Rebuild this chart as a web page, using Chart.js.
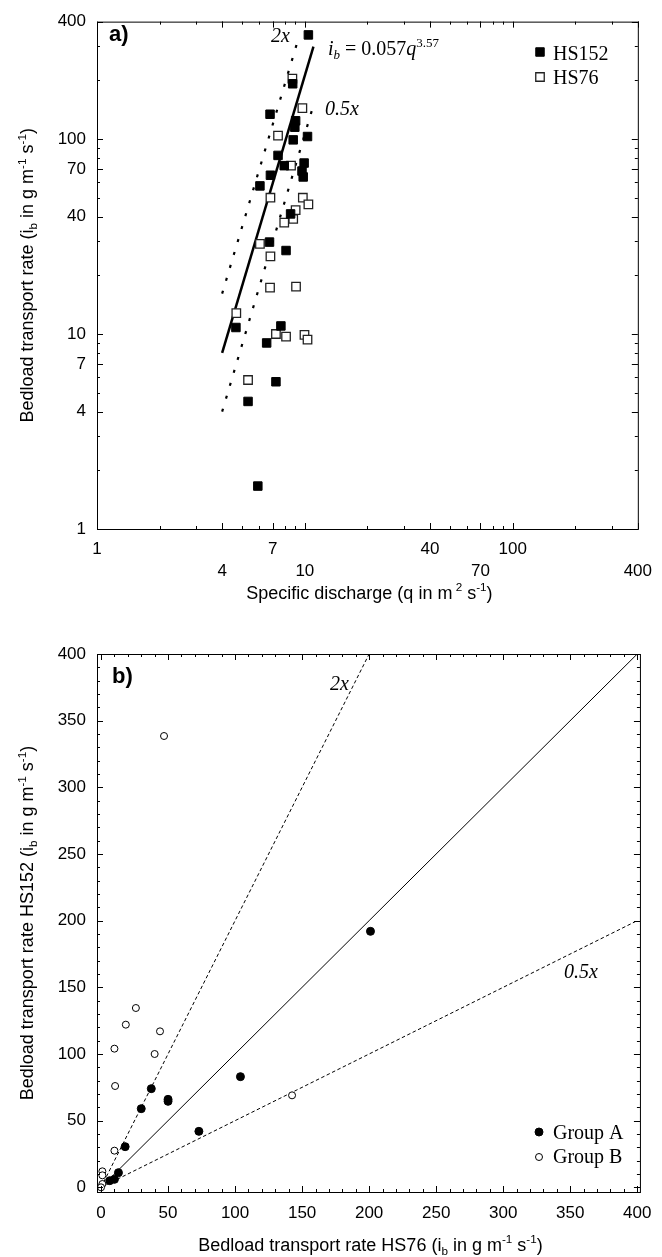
<!DOCTYPE html>
<html>
<head>
<meta charset="utf-8">
<script src="https://cdn.jsdelivr.net/npm/chart.js@4.4.1/dist/chart.umd.min.js"></script>
<style>
  html, body { margin: 0; padding: 0; background: #fff; }
  #boxA { position: absolute; left: 0; top: 0; }
  #boxB { position: absolute; left: 0; top: 630px; }
</style>
</head>
<body>
<div id="boxA"><canvas id="chartA" width="662" height="630"></canvas></div>
<div id="boxB"><canvas id="chartB" width="662" height="627"></canvas></div>
<script>
// ---- panel a: specific discharge vs bedload transport rate (log-log)
const hs152Q  = [10.4, 8.74, 6.80, 9.03, 8.95, 8.79, 10.3, 7.43, 7.96, 9.92, 9.69, 9.82, 6.83, 6.08, 8.54, 6.76, 8.12, 4.66, 7.67, 6.55, 7.26, 5.33, 5.94];
const hs152Ib = [342, 192, 134, 124, 115, 99, 103, 82.4, 73, 75.3, 68.5, 63.9, 65.2, 57.5, 41.3, 29.6, 26.8, 10.8, 11.0, 9.0, 5.69, 4.51, 1.66];
const hs76Q   = [8.71, 9.73, 7.43, 8.58, 6.83, 9.78, 10.4, 9.03, 8.79, 7.96, 6.08, 6.83, 6.80, 9.07, 4.68, 7.26, 8.12, 9.96, 10.3, 5.33];
const hs76Ib  = [204, 144, 104, 73, 50, 50, 46.2, 43.2, 38.9, 37.3, 29.0, 25.0, 17.3, 17.5, 12.8, 10.0, 9.7, 9.9, 9.36, 5.81];
// fitted power law and the 2x / 0.5x envelopes (end points)
const fitQ   = [4, 11];
const fitIb  = [8.0, 298];
const twoXQ  = [4, 9.3];
const twoXIb = [16.1, 326];
const halfQ  = [4, 11];
const halfIb = [4.0, 149];
const logTicks = [1, 4, 7, 10, 40, 70, 100, 400];

// ---- panel b: HS76 vs HS152
const groupAx = [201, 104, 73, 50, 50, 37.5, 30, 18, 13, 10, 6.5];
const groupAy = [192, 83, 42, 66, 64.5, 74, 59, 30.5, 11, 6, 5];
const groupBx = [47, 26, 18.5, 44, 10, 40, 10.5, 142.5, 10, 1, 1, 1, 0];
const groupBy = [338.5, 134.5, 122, 117, 104, 100, 76, 69, 27.5, 12, 9, 2.5, 0];
const oneX = [0, 400], oneY = [0, 400];
const dblX = [0, 200], dblY = [0, 400];
const hlfX = [0, 400], hlfY = [0, 200];
const linTicks = [0, 50, 100, 150, 200, 250, 300, 350, 400];

const sans = "'Liberation Sans', Arial, Helvetica, sans-serif";
const serif = "'Liberation Serif', 'Times New Roman', serif";
Chart.defaults.font.family = sans;
Chart.defaults.color = '#000';

const zip = (xs, ys) => xs.map((x, i) => ({ x: x, y: ys[i] }));

// text with sub/superscripts, drawn on the canvas
function drawRich(ctx, parts, x, y, size, family, align) {
  const small = size * 0.65;
  const fontOf = p => (p.it ? 'italic ' : '') + (p.bold ? 'bold ' : '') + ((p.sub || p.sup) ? small : size) + 'px ' + family;
  let w = 0;
  parts.forEach(p => { ctx.font = fontOf(p); w += ctx.measureText(p.t).width; });
  let cx = align === 'center' ? x - w / 2 : (align === 'right' ? x - w : x);
  ctx.textAlign = 'left';
  ctx.textBaseline = 'alphabetic';
  parts.forEach(p => {
    ctx.font = fontOf(p);
    const dy = p.sub ? size * 0.22 : (p.sup ? -size * 0.42 : 0);
    ctx.fillText(p.t, cx, y + dy);
    cx += ctx.measureText(p.t).width;
  });
}

function drawVertical(ctx, parts, cx, cy, size) {
  ctx.save();
  ctx.translate(cx, cy);
  ctx.rotate(-Math.PI / 2);
  drawRich(ctx, parts, 0, size * 0.36, size, sans, 'center');
  ctx.restore();
}

// box round the plot with inward ticks on all four sides
function frameTicks(chart, xMajor, xMinor, yMajor, yMinor) {
  const { ctx, chartArea: a, scales } = chart;
  ctx.save();
  ctx.strokeStyle = '#000';
  ctx.lineWidth = 1;
  ctx.strokeRect(a.left + 0.5, a.top + 0.5, a.right - a.left, a.bottom - a.top);
  ctx.beginPath();
  const tx = (v, len) => {
    const p = Math.round(scales.x.getPixelForValue(v)) + 0.5;
    ctx.moveTo(p, a.bottom); ctx.lineTo(p, a.bottom - len);
    ctx.moveTo(p, a.top); ctx.lineTo(p, a.top + len);
  };
  const ty = (v, len) => {
    const p = Math.round(scales.y.getPixelForValue(v)) + 0.5;
    ctx.moveTo(a.left, p); ctx.lineTo(a.left + len, p);
    ctx.moveTo(a.right, p); ctx.lineTo(a.right - len, p);
  };
  xMinor.forEach(v => tx(v, 3));
  xMajor.forEach(v => tx(v, 6));
  yMinor.forEach(v => ty(v, 3));
  yMajor.forEach(v => ty(v, 6));
  ctx.stroke();
  ctx.restore();
}

function legendRow(ctx, ds, x, y, label, tx, ty) {
  ctx.save();
  ctx.fillStyle = ds.backgroundColor;
  ctx.strokeStyle = ds.borderColor;
  ctx.lineWidth = ds.borderWidth;
  Chart.helpers.drawPoint(ctx, { pointStyle: ds.pointStyle, radius: ds.pointRadius, rotation: 0, borderWidth: ds.borderWidth }, x, y);
  ctx.restore();
  ctx.fillStyle = '#000';
  drawRich(ctx, [{ t: label }], tx, ty, 20, serif, 'left');
}

const logMinor = [];
[1, 10, 100].forEach(d => { for (let k = 2; k <= 9; k++) if (d * k <= 400) logMinor.push(d * k); });
const linMinor = [];
for (let v = 0; v <= 400; v += 10) linMinor.push(v);

const yTitleA = [{ t: 'Bedload transport rate (i' }, { t: 'b', sub: true }, { t: ' in g m' }, { t: '-1', sup: true }, { t: ' s' }, { t: '-1', sup: true }, { t: ')' }];
const xTitleA = [{ t: 'Specific discharge (q in m' }, { t: ' 2', sup: true }, { t: ' s' }, { t: '-1', sup: true }, { t: ')' }];
const yTitleB = [{ t: 'Bedload transport rate HS152 (i' }, { t: 'b', sub: true }, { t: ' in g m' }, { t: '-1', sup: true }, { t: ' s' }, { t: '-1', sup: true }, { t: ')' }];
const xTitleB = [{ t: 'Bedload transport rate HS76 (i' }, { t: 'b', sub: true }, { t: ' in g m' }, { t: '-1', sup: true }, { t: ' s' }, { t: '-1', sup: true }, { t: ')' }];

const decoA = {
  id: 'decoA',
  afterDraw(chart) {
    const { ctx, chartArea: a } = chart;
    frameTicks(chart, logTicks, logMinor, logTicks, logMinor);
    ctx.save();
    ctx.fillStyle = '#000';
    drawVertical(ctx, yTitleA, 27, (a.top + a.bottom) / 2, 18);
    drawRich(ctx, xTitleA, (a.left + a.right) / 2 + 2, 599, 18, sans, 'center');
    drawRich(ctx, [{ t: 'a)', bold: true }], a.left + 12, 41, 22, sans, 'left');
    drawRich(ctx, [{ t: '2x', it: true }], 290, 42, 20, serif, 'right');
    drawRich(ctx, [{ t: 'i', it: true }, { t: 'b', it: true, sub: true }, { t: ' = 0.057' }, { t: 'q', it: true }, { t: '3.57', sup: true }], 328, 55, 20, serif, 'left');
    drawRich(ctx, [{ t: '0.5x', it: true }], 325, 115, 20, serif, 'left');
    const ds = chart.data.datasets;
    legendRow(ctx, ds[0], 540, 52, ds[0].label, 553, 60);
    legendRow(ctx, ds[1], 540, 77, ds[1].label, 553, 84);
    ctx.restore();
  }
};

const decoB = {
  id: 'decoB',
  afterDraw(chart) {
    const { ctx, chartArea: a } = chart;
    frameTicks(chart, linTicks, linMinor, linTicks, linMinor);
    ctx.save();
    ctx.fillStyle = '#000';
    drawVertical(ctx, yTitleB, 27, (a.top + a.bottom) / 2, 18);
    drawRich(ctx, xTitleB, (a.left + a.right) / 2 + 2, 621, 18, sans, 'center');
    drawRich(ctx, [{ t: 'b)', bold: true }], a.left + 15, 53, 22, sans, 'left');
    drawRich(ctx, [{ t: '2x', it: true }], 330, 60, 20, serif, 'left');
    drawRich(ctx, [{ t: '0.5x', it: true }], 564, 348, 20, serif, 'left');
    const ds = chart.data.datasets;
    legendRow(ctx, ds[0], 539, 502, ds[0].label, 553, 509);
    legendRow(ctx, ds[1], 539, 527, ds[1].label, 553, 533);
    ctx.restore();
  }
};

const tickFont = { family: sans, size: 17, lineHeight: 1.25 };

new Chart(document.getElementById('chartA'), {
  type: 'scatter',
  data: {
    datasets: [
      { label: 'HS152', data: zip(hs152Q, hs152Ib), pointStyle: 'rect', pointRadius: 6, backgroundColor: '#000', borderColor: '#000', borderWidth: 1 },
      { label: 'HS76', data: zip(hs76Q, hs76Ib), pointStyle: 'rect', pointRadius: 6, backgroundColor: '#fff', borderColor: '#222', borderWidth: 1.3 },
      { label: 'fit', data: zip(fitQ, fitIb), showLine: true, pointRadius: 0, borderColor: '#000', borderWidth: 2.5 },
      { label: '2x', data: zip(twoXQ, twoXIb), showLine: true, pointRadius: 0, borderColor: '#000', borderWidth: 2.2, borderDash: [3, 10.5] },
      { label: '0.5x', data: zip(halfQ, halfIb), showLine: true, pointRadius: 0, borderColor: '#000', borderWidth: 2.2, borderDash: [3, 10.5] }
    ]
  },
  options: {
    responsive: false,
    animation: false,
    layout: { padding: { top: 13, right: 14, left: 0, bottom: 0 } },
    plugins: { legend: { display: false }, tooltip: { enabled: false } },
    scales: {
      x: {
        type: 'logarithmic', min: 1, max: 400,
        grid: { display: false, drawTicks: false }, border: { display: false },
        afterBuildTicks: s => { s.ticks = logTicks.map(v => ({ value: v })); },
        afterFit: s => { s.height = 101; },
        ticks: {
          autoSkip: false, maxRotation: 0, padding: 10, font: { family: sans, size: 17, lineHeight: 1.25 },
          callback: (v, i) => i % 2 === 0 ? String(v) : ['', String(v)]
        }
      },
      y: {
        type: 'logarithmic', min: 1, max: 400,
        grid: { display: false, drawTicks: false }, border: { display: false },
        afterBuildTicks: s => { s.ticks = logTicks.map(v => ({ value: v })); },
        afterFit: s => { s.width = 97; },
        ticks: { autoSkip: false, padding: 11, font: tickFont, callback: v => String(v) }
      }
    }
  },
  plugins: [decoA]
});

new Chart(document.getElementById('chartB'), {
  type: 'scatter',
  data: {
    datasets: [
      { label: 'Group A', data: zip(groupAx, groupAy), pointStyle: 'circle', pointRadius: 4, backgroundColor: '#000', borderColor: '#000', borderWidth: 1 },
      { label: 'Group B', data: zip(groupBx, groupBy), pointStyle: 'circle', pointRadius: 3.5, backgroundColor: '#fff', borderColor: '#000', borderWidth: 1 },
      { label: '1:1', data: zip(oneX, oneY), showLine: true, pointRadius: 0, borderColor: '#000', borderWidth: 1 },
      { label: '2x', data: zip(dblX, dblY), showLine: true, pointRadius: 0, borderColor: '#000', borderWidth: 1, borderDash: [3.5, 2.5] },
      { label: '0.5x', data: zip(hlfX, hlfY), showLine: true, pointRadius: 0, borderColor: '#000', borderWidth: 1, borderDash: [3.5, 2.5] }
    ]
  },
  options: {
    responsive: false,
    animation: false,
    layout: { padding: { top: 24, right: 14, left: 0, bottom: 0 } },
    plugins: { legend: { display: false }, tooltip: { enabled: false } },
    scales: {
      x: {
        type: 'linear', min: -3, max: 402,
        grid: { display: false, drawTicks: false }, border: { display: false },
        afterBuildTicks: s => { s.ticks = linTicks.map(v => ({ value: v })); },
        afterFit: s => { s.height = 65; },
        ticks: { autoSkip: false, maxRotation: 0, padding: 10.5, font: tickFont, callback: v => String(v) }
      },
      y: {
        type: 'linear', min: -3.5, max: 400,
        grid: { display: false, drawTicks: false }, border: { display: false },
        afterBuildTicks: s => { s.ticks = linTicks.map(v => ({ value: v })); },
        afterFit: s => { s.width = 97; },
        ticks: { autoSkip: false, padding: 11, font: tickFont, callback: v => String(v) }
      }
    }
  },
  plugins: [decoB]
});
</script>
</body>
</html>
